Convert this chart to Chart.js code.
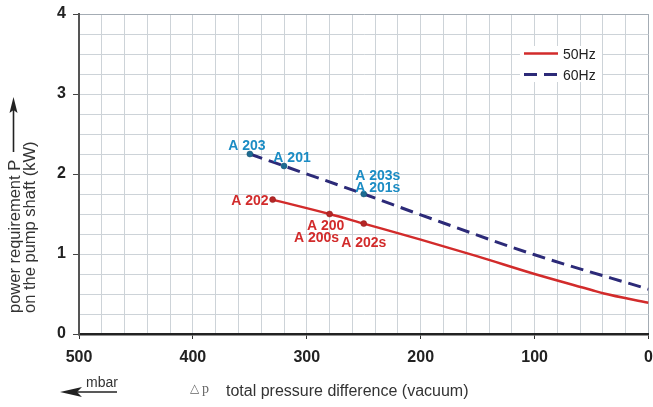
<!DOCTYPE html>
<html>
<head>
<meta charset="utf-8">
<script src="https://cdn.jsdelivr.net/npm/chart.js@4.4.1/dist/chart.umd.min.js"></script>
<style>
  body { margin: 0; background: #fff; }
  #wrap { width: 653px; height: 407px; }
</style>
</head>
<body>
<div id="wrap"><canvas id="pumpChart"></canvas></div>
<script>
// 50Hz curve (solid red)
const pressure50 = [330, 280, 250, 200, 150, 100, 50, 40, 0];
const power50 = [1.68, 1.5, 1.38, 1.18, 0.97, 0.75, 0.55, 0.51, 0.39];
const names50 = [['A 202'], ['A 200', 'A 200s'], ['A 202s'], [], [], [], [], [], []];

// 60Hz curve (dashed navy)
const pressure60 = [350, 320, 250, 200, 100, 0];
const power60 = [2.25, 2.1, 1.75, 1.49, 0.99, 0.56];
const names60 = [['A 203'], ['A 201'], ['A 203s', 'A 201s'], [], [], []];

const xTickLabels = [500, 400, 300, 200, 100, 0];
const yTickLabels = [0, 1, 2, 3, 4];
const seriesNames = ['50Hz', '60Hz'];

const FONT = '"Liberation Sans", Arial, sans-serif';
const RED = '#d22b2b';
const NAVY = '#2c2a78';
const BLUE_TXT = '#1b8cc4';

// where each point label sits relative to its point
const labelPlace = {
    'A 202':  { dx: -4,  dy: 5,   align: 'right' },
    'A 200':  { dx: -4,  dy: 16,  align: 'center' },
    'A 200s': { dx: -13, dy: 28,  align: 'center' },
    'A 202s': { dx: 0,   dy: 23,  align: 'center' },
    'A 203':  { dx: -3,  dy: -4,  align: 'center' },
    'A 201':  { dx: 8,   dy: -4,  align: 'center' },
    'A 203s': { dx: 14,  dy: -14, align: 'center' },
    'A 201s': { dx: 14,  dy: -2,  align: 'center' }
};

function toPoints(xs, ys) {
    return xs.map((x, i) => ({ x: x, y: ys[i] }));
}

const decorations = {
    id: 'decorations',
    afterDatasetsDraw(chart) {
        const ctx = chart.ctx;
        const xs = chart.scales.x, ys = chart.scales.y;
        ctx.save();

        // point labels
        ctx.font = 'bold 14px ' + FONT;
        ctx.textBaseline = 'alphabetic';
        [[pressure50, power50, names50, RED], [pressure60, power60, names60, BLUE_TXT]].forEach(s => {
            s[2].forEach((names, i) => {
                const px = xs.getPixelForValue(s[0][i]);
                const py = ys.getPixelForValue(s[1][i]);
                names.forEach(n => {
                    const p = labelPlace[n];
                    ctx.fillStyle = s[3];
                    ctx.textAlign = p.align;
                    ctx.fillText(n, px + p.dx, py + p.dy);
                });
            });
        });

        // legend box
        ctx.fillStyle = '#fff';
        ctx.fillRect(520, 46, 82, 36);
        ctx.lineWidth = 2.5;
        ctx.strokeStyle = RED;
        ctx.beginPath(); ctx.moveTo(524, 53.5); ctx.lineTo(558, 53.5); ctx.stroke();
        ctx.lineWidth = 3;
        ctx.strokeStyle = NAVY;
        ctx.setLineDash([13, 7]);
        ctx.beginPath(); ctx.moveTo(524, 74.5); ctx.lineTo(560, 74.5); ctx.stroke();
        ctx.setLineDash([]);
        ctx.fillStyle = '#222';
        ctx.font = '14px ' + FONT;
        ctx.textAlign = 'left';
        ctx.fillText(seriesNames[0], 563, 58.5);
        ctx.fillText(seriesNames[1], 563, 79.5);

        // y axis title (rotated) + up arrow
        ctx.save();
        ctx.translate(19.5, 313);
        ctx.rotate(-Math.PI / 2);
        ctx.font = '16.5px ' + FONT;
        ctx.fillStyle = '#333';
        ctx.fillText('power requirement P', 0, 0);
        ctx.fillText('on the pump shaft (kW)', 0, 15);
        ctx.restore();
        ctx.strokeStyle = '#222';
        ctx.lineWidth = 1.6;
        ctx.beginPath(); ctx.moveTo(13.5, 152); ctx.lineTo(13.5, 108); ctx.stroke();
        ctx.fillStyle = '#222';
        ctx.beginPath(); ctx.moveTo(13.5, 97); ctx.lineTo(17.5, 113); ctx.lineTo(13.5, 110); ctx.lineTo(9.5, 113); ctx.closePath(); ctx.fill();

        // x axis title
        ctx.font = '16px ' + FONT;
        ctx.fillStyle = '#333';
        ctx.fillText('total pressure difference (vacuum)', 226, 396);
        ctx.font = '12px "DejaVu Serif", serif';
        ctx.fillStyle = '#666';
        ctx.fillText('\u25B3', 190, 392);
        ctx.font = '14px "Liberation Serif", serif';
        ctx.fillText('p', 202, 393);

        // mbar arrow
        ctx.font = '14px ' + FONT;
        ctx.fillStyle = '#333';
        ctx.fillText('mbar', 86, 387);
        ctx.strokeStyle = '#222';
        ctx.lineWidth = 1.6;
        ctx.beginPath(); ctx.moveTo(117, 392); ctx.lineTo(72, 392); ctx.stroke();
        ctx.fillStyle = '#222';
        ctx.beginPath(); ctx.moveTo(60, 392); ctx.lineTo(82, 387); ctx.lineTo(77, 392); ctx.lineTo(82, 397); ctx.closePath(); ctx.fill();

        ctx.restore();
    }
};

new Chart(document.getElementById('pumpChart'), {
    type: 'line',
    data: {
        datasets: [{
            label: seriesNames[0],
            data: toPoints(pressure50, power50),
            borderColor: RED,
            borderWidth: 2.5,
            pointRadius: c => names50[c.dataIndex].length ? 3 : 0,
            pointBorderWidth: 0.5,
            pointBackgroundColor: '#b52626',
            pointBorderColor: '#8e1c1c',
            cubicInterpolationMode: 'monotone'
        }, {
            label: seriesNames[1],
            data: toPoints(pressure60, power60),
            borderColor: NAVY,
            borderWidth: 3,
            borderDash: [13, 7],
            pointRadius: c => names60[c.dataIndex].length ? 3 : 0,
            pointBorderWidth: 0.5,
            pointBackgroundColor: '#1d6c92',
            pointBorderColor: '#14506e',
            cubicInterpolationMode: 'monotone'
        }]
    },
    options: {
        responsive: true,
        maintainAspectRatio: false,
        animation: false,
        layout: { padding: { top: 14, right: 2, left: 0, bottom: 0 } },
        plugins: { legend: { display: false }, tooltip: { enabled: false } },
        scales: {
            x: {
                type: 'linear',
                reverse: true,
                min: 0,
                max: 500,
                afterFit: s => { s.height = 73; s.paddingLeft = 0; s.paddingRight = 0; },
                border: { color: '#222', width: 2.5 },
                grid: {
                    color: c => c.tick.value === 0 ? '#a4acb4' : '#cdd3d8',
                    tickColor: c => xTickLabels.includes(c.tick.value) ? '#333' : 'transparent',
                    tickLength: 5
                },
                ticks: {
                    stepSize: 20,
                    autoSkip: false,
                    maxRotation: 0,
                    minRotation: 0,
                    padding: 9,
                    color: '#222',
                    font: { family: FONT, size: 16, weight: 'bold' },
                    callback: v => xTickLabels.includes(v) ? v : ''
                }
            },
            y: {
                min: 0,
                max: 4,
                afterFit: s => { s.width = 79; s.paddingTop = 0; s.paddingBottom = 0; },
                border: { color: '#555', width: 2 },
                grid: {
                    color: c => c.tick.value === 4 ? '#a4acb4' : '#cdd3d8',
                    tickColor: c => yTickLabels.includes(c.tick.value) ? '#444' : 'transparent',
                    tickLength: 6
                },
                ticks: {
                    stepSize: 0.25,
                    autoSkip: false,
                    padding: 7,
                    color: '#222',
                    font: { family: FONT, size: 16, weight: 'bold' },
                    callback: v => yTickLabels.includes(v) ? v : ''
                }
            }
        }
    },
    plugins: [decorations]
});
</script>
</body>
</html>
